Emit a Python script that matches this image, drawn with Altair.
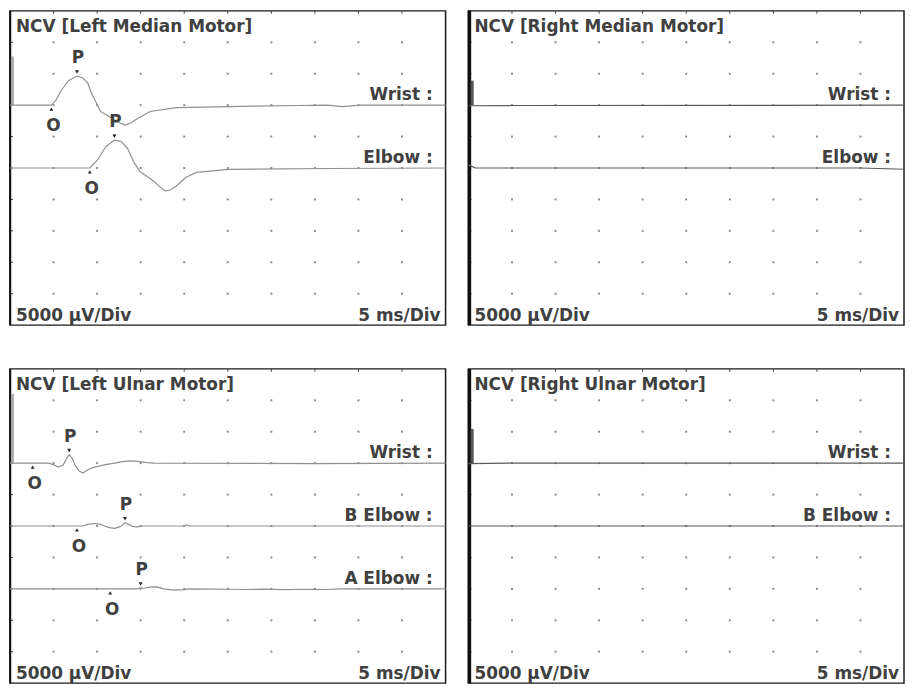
import altair as alt
import pandas as pd

# ---------------- data (time in ms, amplitude in µV) ----------------
X_MAX_MS = 50            # 10 div x 5 ms/Div
Y_MAX_UV = 50000         # 10 div x 5000 µV/Div
GRID_X_MS = [5, 10, 15, 20, 25, 30, 35, 40, 45]
GRID_Y_UV = [5000, 10000, 15000, 20000, 25000, 30000, 35000, 40000, 45000]

PANEL_TITLES = ["NCV [Left Median Motor]", "NCV [Right Median Motor]",
                "NCV [Left Ulnar Motor]", "NCV [Right Ulnar Motor]"]
SENS_LABEL = "5000 µV/Div"
SWEEP_LABEL = "5 ms/Div"

MEDIAN_SITES = ["Wrist", "Elbow"]
MEDIAN_BASELINES_UV = [35000, 25000]
ULNAR_SITES = ["Wrist", "B Elbow", "A Elbow"]
ULNAR_BASELINES_UV = [35000, 25000, 15000]

# stimulus artefact (height in µV, time span in ms) on the first trace of each panel
ARTIFACT_UV = [7760, 3880, 11000, 5440]
ARTIFACT_T0 = [0.11, 0.25, 0.11, 0.25]
ARTIFACT_T1 = [0.45, 0.6, 0.45, 0.6]

# Left median motor
LM_WRIST_T = [0, 4.75, 5.3, 5.88, 6.7, 7.69, 8.4, 8.94, 9.3, 9.73, 10.4, 11.4, 12.3, 13.2,
              13.9, 14.6, 16.1, 19.1, 25.1, 33.0, 36.4, 38.1, 40.3, 50]
LM_WRIST_UV = [0, 0, 850, 2330, 3880, 4630, 4270, 3490, 2100, 850, -1010, -1790, -2640, -3180,
               -2800, -2170, -1010, -390, -230, -60, 0, -230, 0, 0]
LM_ELBOW_T = [0, 9.16, 10.07, 11.0, 11.99, 12.8, 13.5, 14.25, 14.9, 15.7, 16.5, 17.2, 17.8,
              18.4, 19.1, 20.2, 21.4, 25.1, 36.4, 50]
LM_ELBOW_UV = [0, 0, 1320, 3420, 4430, 4190, 3100, 850, -540, -1300, -2100, -3000, -3650,
               -3500, -2870, -1480, -700, -230, -80, 0]
LM_ONSET_MS = [4.75, 9.16]
LM_PEAK_MS = [7.69, 11.99]
LM_PEAK_UV = [4630, 4430]

# Right median motor (flat)
RM_WRIST_T = [0, 5, 50]
RM_WRIST_UV = [-100, -60, 0]
RM_ELBOW_T = [0, 0.3, 0.8, 45, 50]
RM_ELBOW_UV = [500, 300, 0, 0, -200]

# Left ulnar motor
LU_WRIST_T = [0, 2.6, 4.41, 4.98, 5.54, 6.11, 6.45, 6.79, 7.13, 7.47, 7.92, 8.37, 8.94, 9.5,
              10.07, 10.97, 11.99, 12.9, 13.8, 14.93, 15.7, 16.5, 35.0, 50]
LU_WRIST_UV = [0, 0, 0, -230, -620, -310, 620, 1370, 780, -310, -1240, -1550, -1040, -700,
               -520, -230, 0, 230, 360, 250, 80, 0, -60, 0]
LU_BELBOW_T = [0, 8.37, 8.94, 9.73, 10.3, 10.86, 11.4, 12.0, 12.67, 13.0, 13.2, 13.57, 14.03,
               14.6, 15.27, 20.0, 20.25, 20.6, 50]
LU_BELBOW_UV = [0, 0, 250, 400, 300, 0, -250, -370, -100, 250, 510, 300, -50, -150, 0, 0,
                200, 0, 0]
LU_AELBOW_T = [0, 14.6, 15.0, 15.4, 16.06, 16.86, 17.65, 18.8, 19.9, 20.8, 25.1, 27.0, 29.3,
               31.6, 33.8, 36.4, 37.8, 50]
LU_AELBOW_UV = [0, 0, 150, 100, 270, 310, 0, -200, -110, 0, -60, -100, -40, -110, -60, -100,
                0, 0]
LU_ONSET_MS = [2.6, 7.69, 11.5]
LU_PEAK_MS = [6.79, 13.2, 15.0]
LU_PEAK_UV = [1370, 510, 150]

# Right ulnar motor (flat)
RU_WRIST_T = [0, 5, 50]
RU_WRIST_UV = [-80, 0, 0]
RU_BELBOW_T = [0, 50]
RU_BELBOW_UV = [0, 0]

# ---------------- layout / style ----------------
W, H = 438, 316
FONT = "DejaVu Sans"
FS = 17
FW = "bold"
TXT = "#404040"

xs = alt.Scale(domain=[0, X_MAX_MS], nice=False, zero=False)
ys = alt.Scale(domain=[0, Y_MAX_UV], nice=False, zero=False)


def X(f):
    return alt.X(f, type="quantitative", scale=xs, axis=None)


def Y(f):
    return alt.Y(f, type="quantitative", scale=ys, axis=None)


def txt(**kw):
    return dict(font=FONT, fontSize=FS, fontWeight=FW, color=TXT, **kw)


def panel(k, sites, baselines, traces, onsets, peaks, peak_uv, line_color, left_w, art_color):
    rows = []
    for s, b, (tt, vv) in zip(sites, baselines, traces):
        for i, (t, v) in enumerate(zip(tt, vv)):
            rows.append({"site": s, "i": i, "t": t, "uv": b + v})
    tr = pd.DataFrame(rows)

    grid = pd.DataFrame([{"t": gx, "uv": gy} for gx in GRID_X_MS for gy in GRID_Y_UV])
    gy_df = pd.DataFrame({"uv": GRID_Y_UV})
    gx_df = pd.DataFrame({"t": GRID_X_MS})
    one = pd.DataFrame({"a": [0]})
    art = pd.DataFrame({"t0": [ARTIFACT_T0[k]], "t1": [ARTIFACT_T1[k]],
                        "b": [baselines[0]], "top": [baselines[0] + ARTIFACT_UV[k]]})

    layers = [
        alt.Chart(grid).mark_square(size=4, color="#8c8c8c", opacity=1).encode(x=X("t"), y=Y("uv")),
        alt.Chart(gy_df).mark_tick(orient="horizontal", size=3, thickness=1, color="#444",
                                   opacity=1).encode(x=alt.value(1.5), y=Y("uv")),
        alt.Chart(gx_df).mark_tick(orient="vertical", size=3, thickness=1, color="#444",
                                   opacity=1).encode(x=X("t"), y=alt.value(1.5)),
        alt.Chart(one).mark_rect(color="#111").encode(
            x=alt.value(-0.75), x2=alt.value(left_w - 0.75), y=alt.value(0), y2=alt.value(H)),
        alt.Chart(art).mark_rect(color=art_color).encode(
            x=X("t0"), x2=alt.X2("t1"), y=Y("b"), y2=alt.Y2("top")),
        alt.Chart(tr).mark_line(color=line_color, strokeWidth=1.2, strokeJoin="round").encode(
            x=X("t"), y=Y("uv"), detail="site:N", order="i:Q"),
    ]

    lab = pd.DataFrame({"label": [s + " :" for s in sites], "uv": baselines})
    layers.append(
        alt.Chart(lab).mark_text(**txt(align="right", baseline="alphabetic", dy=-5))
        .encode(x=alt.value(W - 13), y=Y("uv"), text="label:N"))

    if onsets:
        mk = pd.DataFrame({"onset": onsets, "base": baselines[:len(onsets)],
                           "peak": peaks,
                           "ptop": [b + p for b, p in zip(baselines, peak_uv)]})
        layers += [
            alt.Chart(mk).mark_point(shape="triangle-up", filled=True, size=14, color="#222",
                                     opacity=1, yOffset=4).encode(x=X("onset"), y=Y("base")),
            alt.Chart(mk).mark_text(**txt(text="O", dy=21, dx=2, baseline="middle"))
            .encode(x=X("onset"), y=Y("base")),
            alt.Chart(mk).mark_point(shape="triangle-down", filled=True, size=16, color="#222",
                                     opacity=1, yOffset=-4).encode(x=X("peak"), y=Y("ptop")),
            alt.Chart(mk).mark_text(**txt(text="P", dy=-18, dx=1, baseline="middle"))
            .encode(x=X("peak"), y=Y("ptop")),
        ]

    layers += [
        alt.Chart(pd.DataFrame({"t": [PANEL_TITLES[k]]})).mark_text(
            **txt(align="left", baseline="alphabetic"))
        .encode(x=alt.value(6), y=alt.value(21), text="t:N"),
        alt.Chart(pd.DataFrame({"t": [SENS_LABEL]})).mark_text(
            **txt(align="left", baseline="alphabetic"))
        .encode(x=alt.value(6), y=alt.value(H - 4), text="t:N"),
        alt.Chart(pd.DataFrame({"t": [SWEEP_LABEL]})).mark_text(
            **txt(align="right", baseline="alphabetic"))
        .encode(x=alt.value(W - 5), y=alt.value(H - 4), text="t:N"),
    ]
    return alt.layer(*layers).properties(width=W, height=H)


p_lm = panel(0, MEDIAN_SITES, MEDIAN_BASELINES_UV,
             [(LM_WRIST_T, LM_WRIST_UV), (LM_ELBOW_T, LM_ELBOW_UV)],
             LM_ONSET_MS, LM_PEAK_MS, LM_PEAK_UV, "#909090", 2, "#aaaaaa")
p_rm = panel(1, MEDIAN_SITES, MEDIAN_BASELINES_UV,
             [(RM_WRIST_T, RM_WRIST_UV), (RM_ELBOW_T, RM_ELBOW_UV)],
             [], [], [], "#5a5a5a", 3.5, "#555555")
p_lu = panel(2, ULNAR_SITES, ULNAR_BASELINES_UV,
             [(LU_WRIST_T, LU_WRIST_UV), (LU_BELBOW_T, LU_BELBOW_UV), (LU_AELBOW_T, LU_AELBOW_UV)],
             LU_ONSET_MS, LU_PEAK_MS, LU_PEAK_UV, "#909090", 2, "#aaaaaa")
p_ru = panel(3, ULNAR_SITES[:2], ULNAR_BASELINES_UV[:2],
             [(RU_WRIST_T, RU_WRIST_UV), (RU_BELBOW_T, RU_BELBOW_UV)],
             [], [], [], "#5a5a5a", 3.5, "#555555")

chart = alt.vconcat(
    alt.hconcat(p_lm, p_rm, spacing=19),
    alt.hconcat(p_lu, p_ru, spacing=19),
    spacing=42,
).properties(
    padding={"left": 0, "top": 0, "right": 0, "bottom": 0}
).configure_view(
    stroke="#1a1a1a", strokeWidth=1.5
)

chart.save("out.html", embed_options={"renderer": "svg", "actions": False})
